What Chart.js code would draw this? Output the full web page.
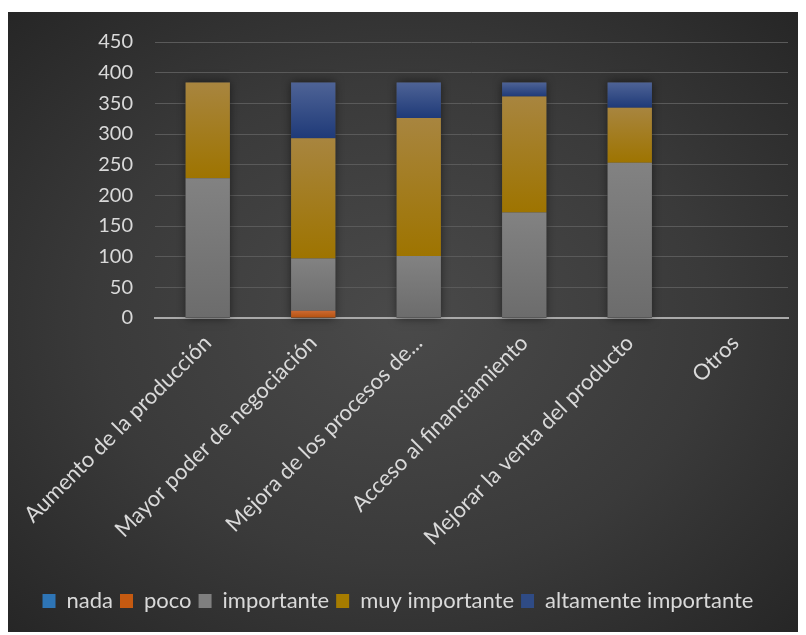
<!DOCTYPE html>
<html>
<head>
<meta charset="utf-8">
<script src="https://cdn.jsdelivr.net/npm/chart.js@4"></script>
<style>
  html, body { margin: 0; padding: 0; background: #ffffff; }
  #marco {
    position: absolute; left: 8px; top: 12px; width: 790px; height: 620px;
    background: radial-gradient(ellipse at 50% 50%, #4a4a4a 0%, #3a3a3a 55%, #262626 100%);
  }
  #myChart { position: absolute; left: 0; top: -4px; }
</style>
</head>
<body>
<div id="marco"><canvas id="myChart" width="790" height="624"></canvas></div>
<script>
const categorias = ['Aumento de la producción', 'Mayor poder de negociación', 'Mejora de los procesos de...',
  'Acceso al financiamiento', 'Mejorar la venta del producto', 'Otros'];
const nada = [0, 0, 0, 0, 0, 0];
const poco = [0, 12, 0, 0, 0, 0];
const importante = [228, 85, 101, 172, 253, 0];
const muyImportante = [156, 196, 225, 189, 90, 0];
const altamente = [0, 91, 58, 23, 41, 0];
const series = [nada, poco, importante, muyImportante, altamente];

// color claro arriba, oscuro abajo, por segmento
const tonos = [
  ['#3a82c0', '#2a6aa8', '#2e75b6'],
  ['#cc6a32', '#b4500e', '#c55a11'],
  ['#828282', '#6c6c6c', '#7f7f7f'],
  ['#a8853f', '#9e7400', '#a67c00'],
  ['#4e6396', '#1f3a78', '#2f4b85']
];

function degradado(i) {
  return (ctx) => {
    const chart = ctx.chart;
    const y = chart.scales.y;
    if (ctx.type !== 'data' || !y) return tonos[i][2];
    let inicio = 0;
    for (let k = 0; k < i; k++) inicio += series[k][ctx.dataIndex];
    const v = series[i][ctx.dataIndex];
    const y0 = y.getPixelForValue(inicio);
    const y1 = y.getPixelForValue(inicio + v);
    if (!isFinite(y0) || !isFinite(y1) || y0 === y1) return tonos[i][2];
    const g = chart.ctx.createLinearGradient(0, y1, 0, y0);
    g.addColorStop(0, tonos[i][0]);
    g.addColorStop(1, tonos[i][1]);
    return g;
  };
}

// sombra detras de cada columna apilada
const sombra = {
  id: 'sombra',
  beforeDatasetsDraw(chart) {
    const c = chart.ctx;
    const metas = chart.data.datasets.map((d, i) => chart.getDatasetMeta(i));
    c.save();
    c.shadowColor = 'rgba(0,0,0,0.55)';
    c.shadowBlur = 9;
    c.fillStyle = '#444444';
    metas[0].data.forEach((el, j) => {
      let tope = el.base;
      metas.forEach(m => { if (m.data[j].y < tope) tope = m.data[j].y; });
      if (el.base - tope < 1) return;
      c.fillRect(el.x - el.width / 2, tope, el.width, el.base - tope);
    });
    c.restore();
  }
};

const fuente = 'Lato, "Open Sans", sans-serif';
const nombres = ['nada', 'poco', 'importante', 'muy importante', 'altamente importante'];

new Chart(document.getElementById('myChart'), {
  type: 'bar',
  data: {
    labels: categorias,
    datasets: series.map((s, i) => ({
      label: nombres[i],
      data: s,
      backgroundColor: degradado(i),
      borderWidth: 0,
      barPercentage: 0.42,
      categoryPercentage: 1
    }))
  },
  options: {
    responsive: false,
    animation: false,
    layout: { padding: { top: 25, right: 10, bottom: 10, left: 0 } },
    plugins: {
      tooltip: { enabled: false },
      legend: {
        position: 'bottom',
        labels: {
          color: '#d9d9d9',
          font: { family: fuente, size: 22 },
          boxWidth: 13,
          boxHeight: 14,
          padding: 7,
          generateLabels: () => nombres.map((n, i) => ({
            text: n, fillStyle: tonos[i][2], strokeStyle: tonos[i][2],
            lineWidth: 0, fontColor: '#d9d9d9', datasetIndex: i
          }))
        }
      }
    },
    scales: {
      x: {
        stacked: true,
        grid: { display: false },
        border: { color: '#a9a9a9', width: 2 },
        ticks: {
          color: '#d9d9d9',
          font: { family: fuente, size: 22 },
          minRotation: 45,
          maxRotation: 45,
          padding: 4,
          autoSkip: false
        },
        afterFit(scale) { scale.height = 265; }
      },
      y: {
        stacked: true,
        min: 0,
        max: 450,
        border: { display: false },
        grid: { color: '#5a5a5a', lineWidth: 1, drawTicks: false },
        ticks: {
          stepSize: 50,
          color: '#d9d9d9',
          font: { family: fuente, size: 20 },
          padding: 22
        },
        afterFit(scale) { scale.width = 147; }
      }
    }
  },
  plugins: [sombra]
});
</script>
</body>
</html>
